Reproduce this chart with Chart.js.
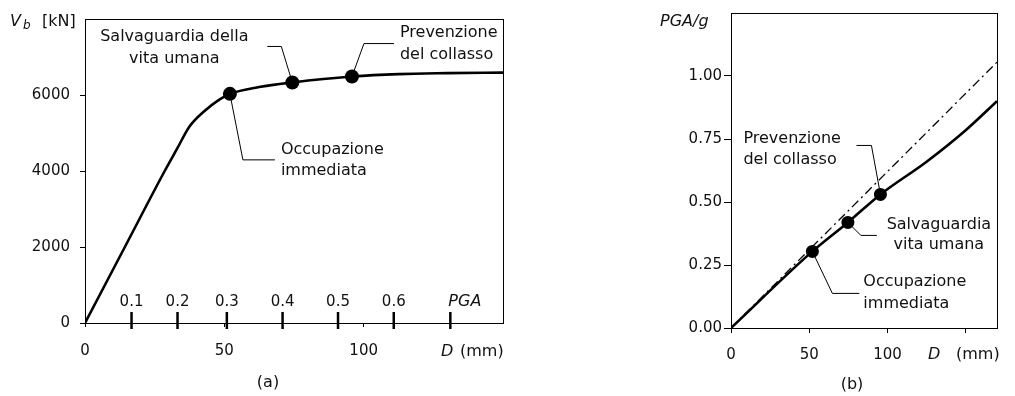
<!DOCTYPE html>
<html>
<head>
<meta charset="utf-8">
<script src="https://cdn.jsdelivr.net/npm/chart.js@4.4.0/dist/chart.umd.min.js"></script>
<style>
    body { margin: 0; background: #fff; width: 1015px; height: 396px; overflow: hidden; position: relative; }
    #chartA { position: absolute; left: 0; top: 0; }
    #chartB { position: absolute; left: 600px; top: 0; }
</style>
</head>
<body>
<canvas id="chartA" width="520" height="396"></canvas>
<canvas id="chartB" width="415" height="396"></canvas>
<script>
// ---- (a) capacity curve: base shear vs top displacement ----
const dispA  = [0, 14.3, 28.6, 33, 37.5, 42.9, 48.2, 52, 62.5, 74.4, 95.8, 112.5, 130, 150];
const shearA = [0, 2000, 4000, 4580, 5170, 5580, 5880, 6030, 6210, 6330, 6485, 6550, 6575, 6590];
const levelDispA  = [52, 74.4, 95.8];
const levelShearA = [6030, 6330, 6485];
const levelNamesA = [['Occupazione', 'immediata'], ['Salvaguardia della', 'vita umana'], ['Prevenzione', 'del collasso']];
const pgaDispA   = [16.7, 33.2, 50.9, 70.9, 90.8, 110.8, 131.1];
const pgaLabelsA = ['0.1', '0.2', '0.3', '0.4', '0.5', '0.6', 'PGA'];
const dTicksA = [0, 50, 100];
const vTicksA = [0, 2000, 4000, 6000];

// ---- (b) PGA vs displacement ----
const dispB = [0, 52, 74.7, 95.5, 125, 150, 170];
const pgaB  = [0, 0.304, 0.419, 0.530, 0.660, 0.785, 0.90];
const refDispB = [0, 170];
const refPgaB  = [0, 1.055];
const levelDispB = [52, 74.7, 95.5];
const levelPgaB  = [0.304, 0.419, 0.530];
const levelNamesB = [['Occupazione', 'immediata'], ['Salvaguardia', 'vita umana'], ['Prevenzione', 'del collasso']];
const dTicksB = [0, 50, 100, 150];
const dTickLabelsB = ['0', '50', '100', ''];
const pTicksB = [0, 0.25, 0.5, 0.75, 1.0];

const FAM = "'DejaVu Sans', sans-serif";
const tickFont = { family: FAM, size: 15 };
const INK = '#111';

const pts = (xs, ys) => xs.map((v, i) => ({ x: v, y: ys[i] }));

function text(ctx, str, x, y, align, font) {
    ctx.font = font || ('16px ' + FAM);
    ctx.fillStyle = INK;
    ctx.textAlign = align || 'left';
    ctx.textBaseline = 'middle';
    ctx.fillText(str, x, y);
}

function leader(ctx, px, py, elbow, end) {
    ctx.beginPath();
    ctx.moveTo(px, py);
    ctx.lineTo(px + elbow[0], py + elbow[1]);
    ctx.lineTo(px + end[0], py + end[1]);
    ctx.strokeStyle = '#000';
    ctx.lineWidth = 1;
    ctx.stroke();
}

function frame(chart) {
    const { ctx, chartArea: a } = chart;
    ctx.strokeStyle = '#000';
    ctx.lineWidth = 1;
    ctx.strokeRect(Math.round(a.left) + 0.5, Math.round(a.top) + 0.5,
        Math.round(a.right - a.left), Math.round(a.bottom - a.top));
}

// note layout: offsets from the marker pixel
function drawNotes(chart, xs, ys, names, layout) {
    const { ctx, scales } = chart;
    xs.forEach((d, i) => {
        const px = scales.x.getPixelForValue(d);
        const py = scales.y.getPixelForValue(ys[i]);
        const l = layout[i];
        leader(ctx, px, py, l.elbow, l.end);
        text(ctx, names[i][0], px + l.t1[0], py + l.t1[1], l.align);
        text(ctx, names[i][1], px + l.t2[0], py + l.t2[1], l.align);
    });
}

function axis(opts) {
    return Object.assign({
        type: 'linear',
        ticks: { font: tickFont, color: INK, autoSkip: false, maxRotation: 0 },
        grid: { drawOnChartArea: false, color: '#000', lineWidth: 1 },
        border: { color: '#000', width: 1 }
    }, opts);
}

const notesA = {
    id: 'notesA',
    afterDraw(chart) {
        const { ctx, chartArea: a, scales: { x } } = chart;
        ctx.save();
        frame(chart);
        // PGA marks on the displacement axis
        pgaDispA.forEach((d, i) => {
            const px = x.getPixelForValue(d);
            ctx.beginPath();
            ctx.moveTo(px, a.bottom - 11);
            ctx.lineTo(px, a.bottom + 6);
            ctx.strokeStyle = '#000';
            ctx.lineWidth = 2.5;
            ctx.stroke();
            if (pgaLabelsA[i] === 'PGA') text(ctx, 'PGA', px - 2, a.bottom - 21, 'left', 'italic 16px ' + FAM);
            else text(ctx, pgaLabelsA[i], px, a.bottom - 21, 'center', '15px ' + FAM);
        });
        drawNotes(chart, levelDispA, levelShearA, levelNamesA, [
            { elbow: [13, 66], end: [45, 66], t1: [51, 56], t2: [51, 77], align: 'left' },
            { elbow: [-11, -36], end: [-25, -36], t1: [-118, -46], t2: [-118, -24], align: 'center' },
            { elbow: [12, -33], end: [42, -33], t1: [48, -44], t2: [48, -22], align: 'left' }
        ]);
        // axis titles
        text(ctx, 'V', 10, 22, 'left', 'italic 16px ' + FAM);
        text(ctx, 'b', 23, 26, 'left', 'italic 12px ' + FAM);
        text(ctx, '[kN]', 42, 22, 'left', '16px ' + FAM);
        text(ctx, 'D', 441, 352, 'left', 'italic 16px ' + FAM);
        text(ctx, '(mm)', 460, 352, 'left', '16px ' + FAM);
        text(ctx, '(a)', 268, 383, 'center', '16px ' + FAM);
        ctx.restore();
    }
};

const notesB = {
    id: 'notesB',
    afterDraw(chart) {
        const { ctx } = chart;
        ctx.save();
        frame(chart);
        drawNotes(chart, levelDispB, levelPgaB, levelNamesB, [
            { elbow: [20, 42], end: [47, 42], t1: [51, 30], t2: [51, 52], align: 'left' },
            { elbow: [13, 13], end: [29, 13], t1: [91, 2], t2: [91, 22], align: 'center' },
            { elbow: [-9, -49], end: [-24, -49], t1: [-137, -56], t2: [-137, -35], align: 'left' }
        ]);
        text(ctx, 'PGA/g', 60, 22, 'left', 'italic 16px ' + FAM);
        text(ctx, 'D', 328, 355, 'left', 'italic 16px ' + FAM);
        text(ctx, '(mm)', 356, 355, 'left', '16px ' + FAM);
        text(ctx, '(b)', 252, 385, 'center', '16px ' + FAM);
        ctx.restore();
    }
};

new Chart(document.getElementById('chartA'), {
    type: 'scatter',
    data: {
        datasets: [
            { data: pts(levelDispA, levelShearA), pointRadius: 7, pointBackgroundColor: '#000', pointBorderWidth: 0, showLine: false },
            { data: pts(dispA, shearA), showLine: true, borderColor: '#000', borderWidth: 2.6, pointRadius: 0, cubicInterpolationMode: 'monotone' }
        ]
    },
    options: {
        responsive: false,
        animation: false,
        devicePixelRatio: 1,
        layout: { padding: { left: 0, top: 16, right: 17, bottom: 0 } },
        plugins: { legend: { display: false }, tooltip: { enabled: false } },
        scales: {
            x: axis({
                min: 0, max: 150,
                afterBuildTicks: s => { s.ticks = dTicksA.map(v => ({ value: v })); },
                afterFit: s => { s.height = 73; },
                ticks: { font: tickFont, color: INK, padding: 15, autoSkip: false, maxRotation: 0, callback: v => String(v) },
                grid: { drawOnChartArea: false, color: '#000', tickLength: 4 }
            }),
            y: axis({
                min: 0, max: 8000,
                afterBuildTicks: s => { s.ticks = vTicksA.map(v => ({ value: v })); },
                afterFit: s => { s.width = 85; },
                ticks: { font: tickFont, color: INK, padding: 10, autoSkip: false, callback: v => String(v) },
                grid: { drawOnChartArea: false, color: '#000', tickLength: 5 }
            })
        }
    },
    plugins: [notesA]
});

new Chart(document.getElementById('chartB'), {
    type: 'scatter',
    data: {
        datasets: [
            { data: pts(levelDispB, levelPgaB), pointRadius: 6.5, pointBackgroundColor: '#000', pointBorderWidth: 0, showLine: false },
            { data: pts(dispB, pgaB), showLine: true, borderColor: '#000', borderWidth: 2.6, pointRadius: 0, cubicInterpolationMode: 'monotone' },
            { data: pts(refDispB, refPgaB), showLine: true, borderColor: '#000', borderWidth: 1.3, borderDash: [9, 4, 2, 4], pointRadius: 0 }
        ]
    },
    options: {
        responsive: false,
        animation: false,
        devicePixelRatio: 1,
        layout: { padding: { left: 0, top: 13, right: 18, bottom: 0 } },
        plugins: { legend: { display: false }, tooltip: { enabled: false } },
        scales: {
            x: axis({
                min: 0, max: 170,
                afterBuildTicks: s => { s.ticks = dTicksB.map(v => ({ value: v })); },
                afterFit: s => { s.height = 68; },
                ticks: { font: tickFont, color: INK, padding: 13, autoSkip: false, maxRotation: 0, callback: (v, i) => dTickLabelsB[i] },
                grid: { drawOnChartArea: false, color: '#000', tickLength: 5 }
            }),
            y: axis({
                min: 0, max: 1.25,
                afterBuildTicks: s => { s.ticks = pTicksB.map(v => ({ value: v })); },
                afterFit: s => { s.width = 131; },
                ticks: { font: tickFont, color: INK, padding: 2, autoSkip: false, callback: v => v.toFixed(2) },
                grid: { drawOnChartArea: false, color: '#000', tickLength: 7 }
            })
        }
    },
    plugins: [notesB]
});
</script>
</body>
</html>
